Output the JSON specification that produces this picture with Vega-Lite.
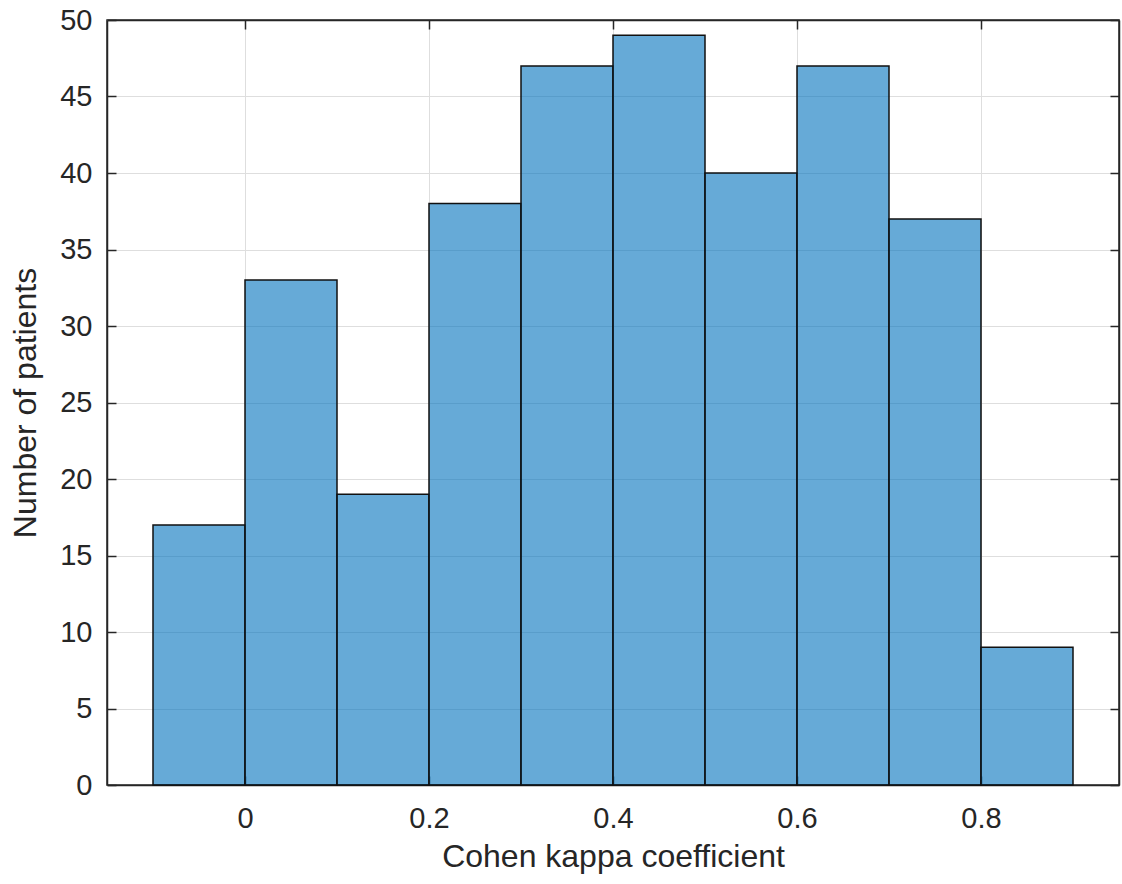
{
  "$schema": "https://vega.github.io/schema/vega-lite/v6.json",
  "width": 1012,
  "height": 765,
  "autosize": {"type": "none"},
  "padding": {"left": 107, "top": 20, "right": 3, "bottom": 99},
  "background": "white",
  "config": {
    "font": "Liberation Sans",
    "view": {"stroke": "#262626", "strokeWidth": 1.5},
    "axis": {
      "domainColor": "#262626",
      "domainWidth": 1.5,
      "tickColor": "#262626",
      "tickWidth": 1.5,
      "tickSize": -9,
      "gridColor": "#DEDEDE",
      "gridWidth": 1,
      "labelFont": "Liberation Sans",
      "labelFontSize": 29,
      "labelColor": "#262626",
      "titleFont": "Liberation Sans",
      "titleFontSize": 32,
      "titleFontWeight": "normal",
      "titleColor": "#262626"
    }
  },
  "data": {
    "values": [
      {"start": -0.1, "end": 0.0, "count": 17},
      {"start": 0.0, "end": 0.1, "count": 33},
      {"start": 0.1, "end": 0.2, "count": 19},
      {"start": 0.2, "end": 0.3, "count": 38},
      {"start": 0.3, "end": 0.4, "count": 47},
      {"start": 0.4, "end": 0.5, "count": 49},
      {"start": 0.5, "end": 0.6, "count": 40},
      {"start": 0.6, "end": 0.7, "count": 47},
      {"start": 0.7, "end": 0.8, "count": 37},
      {"start": 0.8, "end": 0.9, "count": 9}
    ]
  },
  "layer": [
    {
      "mark": {"type": "bar", "fill": "#0072BD", "fillOpacity": 0.6, "stroke": "#111111", "strokeWidth": 1.5},
      "encoding": {
        "x": {
          "field": "start", "type": "quantitative",
          "scale": {"domain": [-0.15, 0.95], "nice": false, "zero": false},
          "axis": {"values": [0, 0.2, 0.4, 0.6, 0.8], "format": "~g", "labelPadding": 28, "title": "Cohen kappa coefficient", "titlePadding": 8}
        },
        "x2": {"field": "end"},
        "y": {
          "field": "count", "type": "quantitative",
          "scale": {"domain": [0, 50], "nice": false},
          "axis": {"values": [0,5,10,15,20,25,30,35,40,45,50], "labelPadding": 24, "title": "Number of patients", "titlePadding": 17}
        },
        "y2": {"datum": 0}
      }
    },
    {
      "mark": {"type": "bar", "opacity": 0},
      "encoding": {
        "x": {
          "field": "start", "type": "quantitative",
          "scale": {"domain": [-0.15, 0.95], "nice": false, "zero": false},
          "axis": {"orient": "top", "values": [0, 0.2, 0.4, 0.6, 0.8], "labels": false, "grid": false, "title": null}
        },
        "x2": {"field": "end"},
        "y": {
          "field": "count", "type": "quantitative",
          "scale": {"domain": [0, 50], "nice": false},
          "axis": {"orient": "right", "values": [0,5,10,15,20,25,30,35,40,45,50], "labels": false, "grid": false, "title": null}
        },
        "y2": {"datum": 0}
      }
    }
  ],
  "resolve": {"axis": {"x": "independent", "y": "independent"}}
}
